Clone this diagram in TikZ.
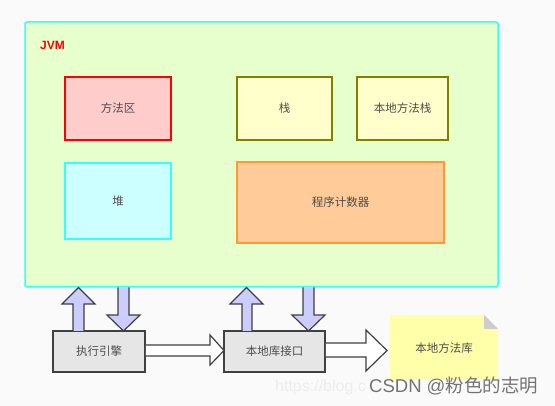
\documentclass[tikz,border=0pt]{standalone}
\usepackage{fontspec}
\setmainfont{Noto Sans CJK SC}
\newfontfamily\latinsans{Liberation Sans}
\usetikzlibrary{calc}
\definecolor{bg}{HTML}{FAFAFA}
\definecolor{jvmfill}{HTML}{E6FFCC}
\definecolor{jvmline}{HTML}{33FFFF}
\definecolor{redfill}{HTML}{FFCCCC}
\definecolor{cyanfill}{HTML}{CCFFFF}
\definecolor{yelfill}{HTML}{FFFFCC}
\definecolor{olive}{HTML}{808000}
\definecolor{orfill}{HTML}{FFCC99}
\definecolor{orline}{HTML}{FF9933}
\definecolor{grayfill}{HTML}{E6E6E6}
\definecolor{darkline}{HTML}{404040}
\definecolor{bluefill}{HTML}{CCCCFF}
\definecolor{notefill}{HTML}{FFFFAA}
\definecolor{txt}{HTML}{4D4D4D}
\tikzset{
  area/.style={draw, line width=1.5pt, minimum width=#1, inner sep=0pt, font=\fontsize{11.5}{13}\selectfont, text=txt},
  box/.style={draw=darkline, fill=grayfill, line width=1.5pt, minimum width=92pt, minimum height=41pt, inner sep=0pt, font=\fontsize{11.5}{13}\selectfont, text=txt},
  vblock/.style={draw=darkline, fill=bluefill, line width=1.2pt, line join=miter},
  hblock/.style={draw=darkline, fill=white, line width=1.2pt, line join=miter}
}
\begin{document}
\begin{tikzpicture}[x=1pt,y=-1pt]
\fill[bg] (0,0) rectangle (555,406);
\useasboundingbox (0,0) rectangle (555,406);
% JVM container
\node[draw=jvmline, fill=jvmfill, line width=1.5pt, rounded corners=2pt, minimum width=473pt, minimum height=265pt, inner sep=0pt] (jvm) at (261.5,154.5) {};
\node[anchor=west, text=red, font=\latinsans\bfseries\fontsize{12}{13}\selectfont, inner sep=0pt] (jvmlabel) at (40,45.5) {JVM};
% inner areas
\node[area=106pt, minimum height=63pt, draw=red, fill=redfill] (method) at (118,108.5) {方法区};
\node[area=106pt, minimum height=76pt, draw=jvmline, fill=cyanfill] (heap) at (118,201) {堆};
\node[area=95pt, minimum height=63pt, draw=olive, fill=yelfill] (stack) at (284.5,108.5) {栈};
\node[area=91pt, minimum height=63pt, draw=olive, fill=yelfill] (nstack) at (402.5,108.5) {本地方法栈};
\node[area=207pt, minimum height=81pt, draw=orline, fill=orfill] (pc) at (340.5,202.5) {程序计数器};
% bottom boxes
\node[box] (exec) at (99,351.5) {执行引擎};
\node[box, minimum width=101pt] (nif) at (274.5,351.5) {本地库接口};
% note
\fill[notefill] (390,315) -- (484,315) -- (498,329) -- (498,380) -- (390,380) -- cycle;
\fill[gray!40] (484,315) -- (498,329) -- (484,329) -- cycle;
\node[font=\fontsize{11.5}{13}\selectfont, text=txt] (nlib) at (444,348) {本地方法库};
% vertical block arrows
\draw[vblock] (73,331) -- (73,304) -- (62,304) -- (78.5,287.5) -- (95,304) -- (84,304) -- (84,331);
\draw[vblock] (118,287.5) -- (118,315) -- (107,315) -- (123.5,331) -- (140,315) -- (129,315) -- (129,287.5);
\draw[vblock] (242,331) -- (242,304) -- (230,304) -- (246.5,287.5) -- (263,304) -- (252,304) -- (252,331);
\draw[vblock] (303,287.5) -- (303,315) -- (292,315) -- (308.5,331) -- (325,315) -- (314,315) -- (314,287.5);
% horizontal block arrows
\draw[hblock] (exec.east |- 0,345) -- (210,345) -- (210,335) -- (224,350.5) -- (210,365) -- (210,356) -- (exec.east |- 0,356);
\draw[hblock] (nif.east |- 0,343) -- (366,343) -- (366,330) -- (387,350.5) -- (366,371) -- (366,357) -- (nif.east |- 0,357);
% watermark
\node[anchor=west, text=black!7, font=\latinsans\fontsize{16}{18}\selectfont, inner sep=0pt] (url) at (275,387) {https://blog.c};
\node[anchor=west, text=black!55, font=\fontsize{18.5}{20}\selectfont, inner sep=0pt] (wm) at (369,386) {\latinsans CSDN @\normalfont 粉色的志明};
\end{tikzpicture}
\end{document}
